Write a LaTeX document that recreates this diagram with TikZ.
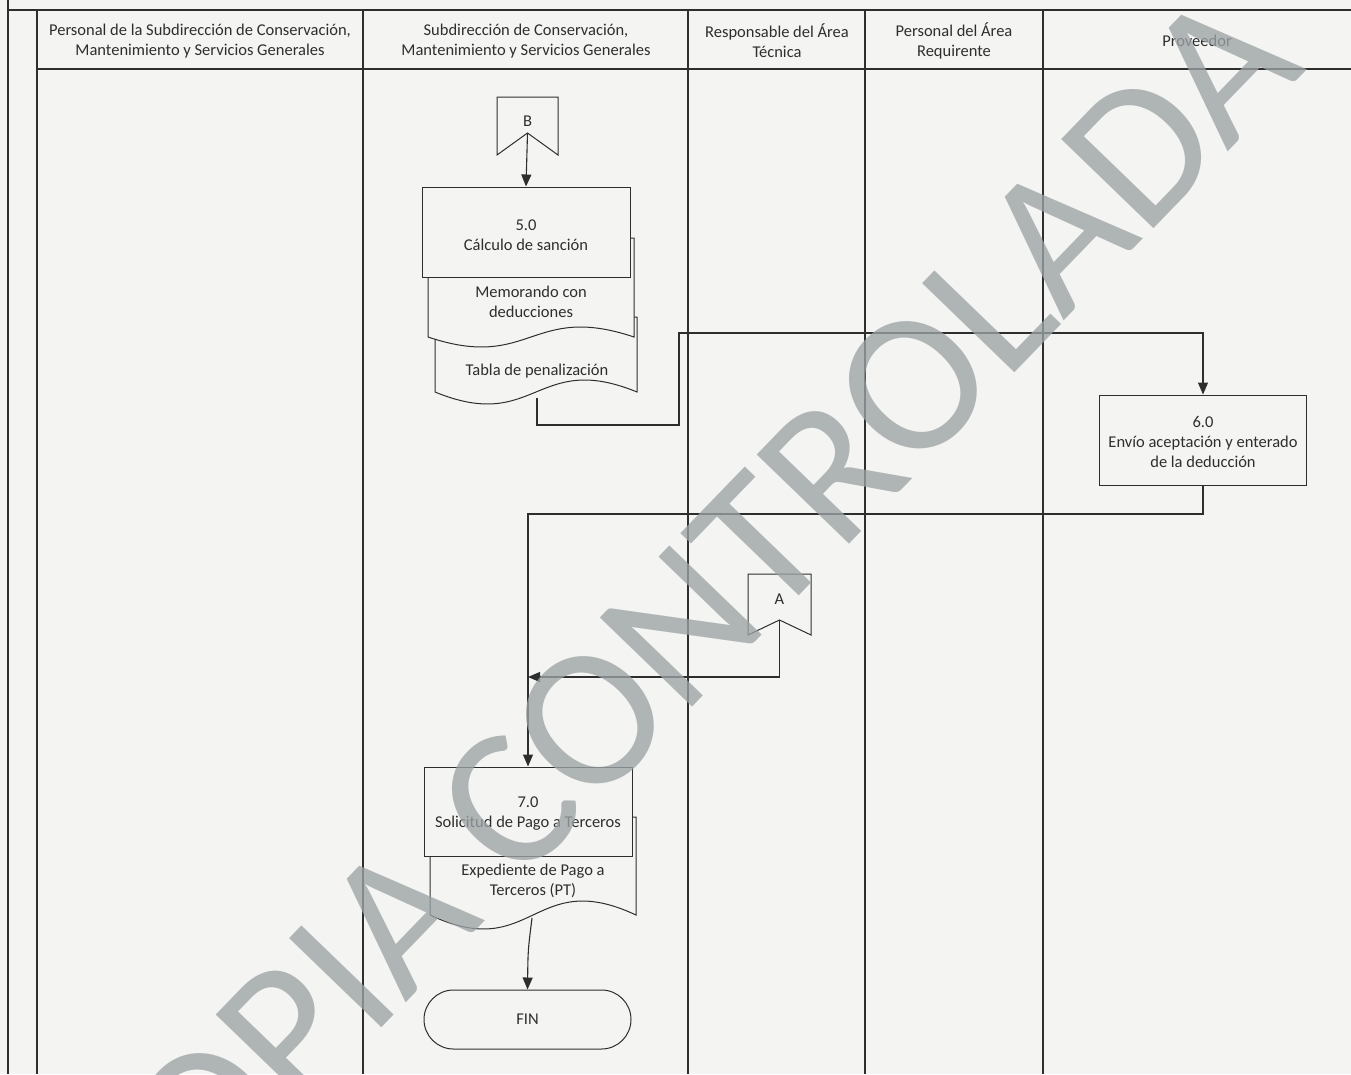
\documentclass[tikz,border=0pt]{standalone}
\usepackage{fontspec}
\setmainfont{Carlito}
\usetikzlibrary{arrows.meta,shapes.misc}
\definecolor{bg}{HTML}{F4F4F2}
\definecolor{ln}{HTML}{2E2E2E}
\definecolor{wm}{HTML}{9CA3A5}
\newcommand\docpath[5]{%
  \filldraw[draw=ln,fill=bg,line width=1pt] (#1,#3) -- (#2,#3) -- (#2,#4)
    .. controls ({#2-0.5*(#2-#1)},{#4-3.46*#5}) and ({#1+0.5*(#2-#1)},{#4+3.46*#5}) .. (#1,#4) -- cycle;}
\newcommand\offpage[5]{% x1 x2 top sidebottom notch
  \filldraw[draw=ln,fill=bg,line width=1pt] (#1,#3) -- (#2,#3) -- (#2,#4) -- ({0.5*(#1+#2)},#5) -- (#1,#4) -- cycle;}
\begin{document}
\begin{tikzpicture}[x=1pt,y=-1pt,
  lane/.style={draw=ln,line width=1.3pt},
  txt/.style={font=\fontsize{16.5}{20}\selectfont,align=center,inner sep=0pt,text=ln},
  proc/.style={draw=ln,line width=1pt,fill=bg,minimum width=208pt,minimum height=90pt,inner sep=0pt,align=center,font=\fontsize{16.5}{20}\selectfont,text=ln},
  term/.style={rounded rectangle,draw=ln,line width=1pt,fill=bg,minimum width=207pt,minimum height=59pt,inner sep=0pt,font=\fontsize{16.5}{20}\selectfont,text=ln},
  flow/.style={draw=ln,line width=1.1pt,-{Triangle[length=12pt,width=10pt]}}
]
\useasboundingbox (0,0) rectangle (1351,1074);
\clip (0,0) rectangle (1351,1074);
\fill[bg] (0,0) rectangle (1351,1074);

% frame and lanes
\draw[lane] (8,0) -- (8,1074);
\draw[lane] (8,10) -- (1351,10);
\draw[lane] (37,69) -- (1351,69);
\foreach \xx in {37,363,688,865,1043} \draw[lane] (\xx,10) -- (\xx,1074);

% lane headers
\node[txt] (h1) at (200,41) {Personal de la Subdirección de Conservación,\\Mantenimiento y Servicios Generales};
\node[txt] (h2) at (526,41) {Subdirección de Conservación,\\Mantenimiento y Servicios Generales};
\node[txt] (h3) at (777,41) {Responsable del Área\\Técnica};
\node[txt] (h4) at (954,41) {Personal del Área\\Requirente};
\node[txt] (h5) at (1197,41) {Proveedor};

% off-page connector B
\offpage{497}{558}{97}{155}{133}
\node[txt] (B) at (527.5,121) {B};
\coordinate (Bn) at (527.5,133);

% documents of 5.0
\docpath{435}{637}{317}{392}{12}
\node[txt] (tabla) at (537,371) {Tabla de penalización};
\docpath{428}{634}{238}{337}{10}
\node[txt] (memo) at (531,302) {Memorando con\\deducciones};
\node[proc] (p5) at (526,232) {};
\node[txt] (p5t) at (526,235) {5.0\\Cálculo de sanción};
\coordinate (tabbot) at (537,398);

% 6.0
\node[proc, minimum width=207pt] (p6) at (1203,440) {};
\node[txt] (p6t) at (1203,442) {6.0\\Envío aceptación y enterado\\de la deducción};

% off-page connector A
\offpage{748}{811}{574}{635}{620}
\node[txt] (A) at (779.5,599) {A};
\coordinate (An) at (779.5,620);

% 7.0 and document
\docpath{430}{636}{817}{915}{14}
\node[txt] (exp) at (533,881) {Expediente de Pago a\\Terceros (PT)};
\node[proc, minimum height=89pt] (p7) at (528,811.5) {};
\node[txt] (p7t) at (528,814) {7.0\\Solicitud de Pago a Terceros};
\coordinate (expbot) at (532,918);

% FIN
\node[term] (fin) at (527.5,1019.5) {FIN};

% connectors
\coordinate (c1) at (679,425);
\coordinate (c2) at (679,333);
\coordinate (c3) at (1203,514);
\coordinate (c4) at (779.5,677);
\draw[flow] (Bn) -- (p5.north);
\draw[flow] (tabbot) |- (c1) -- (c2) -| (p6.north);
\draw[flow] (p6.south) -- (c3) -| (p7.north);
\draw[flow] (An) -- (c4) -- (p7.north |- c4);
\draw[flow] (expbot) .. controls (528,950) .. (fin.north);

% watermark
\node[text=wm, text opacity=0.78, rotate=46, inner sep=0pt, anchor=base,
      font=\fontsize{200}{200}\selectfont] (wmark) at (721,677) {COPIA CONTROLADA};
\end{tikzpicture}
\end{document}
